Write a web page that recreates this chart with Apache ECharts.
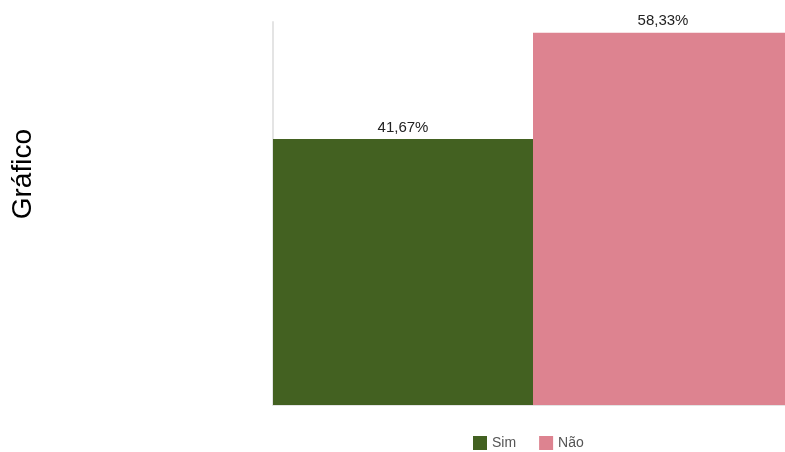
<!DOCTYPE html>
<html>
<head>
<meta charset="utf-8">
<script src="https://cdn.jsdelivr.net/npm/echarts@6/dist/echarts.min.js"></script>
<style>
  html, body { margin: 0; padding: 0; background: #fff; }
  #main { width: 785px; height: 452px; }
</style>
</head>
<body>
<div id="main"></div>
<script>
   // dados do gráfico
   var categorias = ['Gráfico'];
   var nomes = ['Sim', 'Não'];
   var valoresSim = [41.67];
   var valoresNao = [58.33];
   var cores = ['#436121', '#dd8390'];

   var myChart = echarts.init(document.getElementById('main'));

   function rotulo(p) {
       return p.value.toFixed(2).replace('.', ',') + '%';
   }

   myChart.setOption({
       animation: false,
       color: cores,
       textStyle: { fontFamily: 'Liberation Sans, Arial, sans-serif' },
       graphic: [{
           type: 'text',
           left: 9,
           top: 129,
           rotation: Math.PI / 2,
           style: {
               text: 'Gráfico',
               fontSize: 28,
               fill: '#000',
               fontFamily: 'Liberation Sans, Arial, sans-serif'
           }
       }],
       grid: {
           left: 273,
           width: 520,
           top: 22,
           bottom: 47,
           outerBoundsMode: 'none'
       },
       legend: {
           data: nomes,
           top: 431,
           left: 468,
           icon: 'rect',
           itemWidth: 14,
           itemHeight: 14,
           itemGap: 23,
           itemTextGap: 6,
           textStyle: { color: '#555', fontSize: 14 }
       },
       xAxis: {
           type: 'category',
           data: categorias,
           axisLine: { lineStyle: { color: '#e4e4e4', width: 2 } },
           axisTick: { show: false },
           axisLabel: { show: false }
       },
       yAxis: {
           type: 'value',
           min: 0,
           max: 60,
           axisLine: { show: true, lineStyle: { color: '#e4e4e4', width: 2 } },
           axisTick: { show: false },
           axisLabel: { show: false },
           splitLine: { show: false }
       },
       series: [{
           name: 'Sim',
           type: 'bar',
           data: valoresSim,
           barGap: '0%',
           barCategoryGap: '0%',
           label: { show: true, position: 'top', color: '#222', fontSize: 15, distance: 4, formatter: rotulo }
       }, {
           name: 'Não',
           type: 'bar',
           data: valoresNao,
           barGap: '0%',
           barCategoryGap: '0%',
           label: { show: true, position: 'top', color: '#222', fontSize: 15, distance: 4, formatter: rotulo }
       }]
   });
</script>
</body>
</html>
